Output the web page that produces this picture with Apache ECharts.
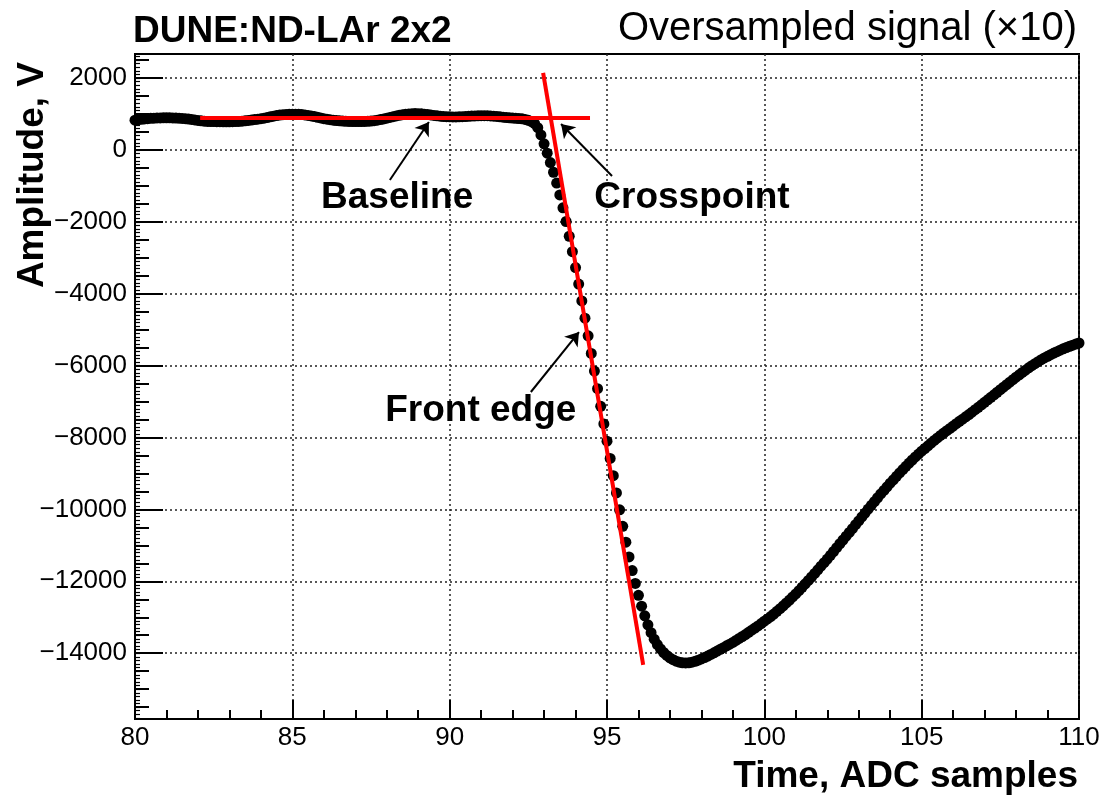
<!DOCTYPE html>
<html><head><meta charset="utf-8">
<script src="https://cdn.jsdelivr.net/npm/echarts@6/dist/echarts.min.js"></script>
<style>html,body{margin:0;padding:0;background:#fff}#c{width:1107px;height:801px}</style>
</head><body><div id="c"></div>
<script>
// Oversampled signal: one value every 0.1 ADC sample, from 80.0 to 110.0
const T_START = 80;
const T_STEP = 0.1;
// 80.0 .. 85.0
const ampBaselineA = [830,842,853,863,872,880,886,890,893,895,895,894,892,889,885,879,871,862,850,836,
  822,810,801,795,791,789,787,786,785,785,785,786,789,794,801,810,821,833,846,858,
  871,886,903,921,940,958,972,982,989,993,995];
// 85.1 .. 89.0
const ampBaselineB = [994,991,985,975,962,946,928,909,890,872,856,842,830,820,812,805,799,795,792,790,
  790,791,794,798,805,815,828,845,864,884,905,926,947,966,982,995,1004,1010,1012,1010];
// 89.1 .. 92.0
const ampBaselineC = [1005,997,987,975,962,950,940,931,925,921,919,919,921,925,930,936,942,948,952,955,
  955,953,948,941,932,922,912,902,894,887];
// 92.1 .. 97.0
const ampFrontEdge = [882,876,866,850,826,790,730,620,420,
  170,-90,-350,-620,-920,-1250,-1610,-1990,-2400,-2830,
  -3270,-3730,-4200,-4680,-5170,-5660,-6150,-6640,-7130,-7620,
  -8100,-8580,-9060,-9540,-10010,-10470,-10910,-11320,-11700,-12060,
  -12390,-12690,-12960,-13210,-13430,-13610,-13760,-13880,-13980,-14060,
  -14130];
// 97.1 .. 110.0
const ampTail = [-14180,-14220,-14250,-14265,-14270,-14265,-14250,-14225,-14195,-14160,
  -14120,-14080,-14035,-13990,-13940,-13890,-13845,-13795,-13750,-13700,
  -13645,-13590,-13535,-13480,-13420,-13360,-13300,-13240,-13175,-13110,
  -13045,-12980,-12910,-12835,-12760,-12680,-12600,-12520,-12435,-12350,
  -12260,-12165,-12070,-11975,-11880,-11780,-11680,-11580,-11480,-11380,
  -11275,-11170,-11065,-10955,-10850,-10745,-10640,-10535,-10425,-10320,
  -10210,-10100,-9990,-9885,-9780,-9675,-9570,-9470,-9370,-9270,
  -9175,-9080,-8985,-8890,-8800,-8710,-8625,-8540,-8460,-8380,
  -8305,-8230,-8155,-8080,-8010,-7940,-7875,-7810,-7745,-7680,
  -7615,-7550,-7490,-7425,-7360,-7295,-7225,-7160,-7090,-7020,
  -6950,-6880,-6810,-6740,-6670,-6600,-6530,-6460,-6390,-6320,
  -6255,-6190,-6125,-6060,-6000,-5945,-5890,-5835,-5785,-5740,
  -5695,-5650,-5610,-5570,-5530,-5495,-5460,-5430,-5400,-5370];

// Fitted lines (data coordinates)
const baselineFit = [[82.07, 900], [94.46, 900]];
const frontEdgeFit = [[92.97, 2147], [96.15, -14325]];

// Annotation arrows: [tail, head]
const arrowBaseline = [[88.10, -835], [89.34, 779]];
const arrowCross = [[95.16, -723], [93.54, 723]];
const arrowFront = [[92.58, -6733], [94.11, -5064]];
const annotationNames = ['Baseline', 'Crosspoint', 'Front edge'];
const annotationAt = [[88.33, -1336], [97.70, -1336], [90.99, -7262]];

// Axis ticks
const yMajorTicks = [-14000, -12000, -10000, -8000, -6000, -4000, -2000, 0, 2000];
const yMinorTicks = [];
for (let v = -15500; v <= 2500; v += 500) yMinorTicks.push(v);
const yTinyTicks = [];
for (let v = -15800; v <= 2600; v += 100) yTinyTicks.push(v);

const Y_MIN = -15830, Y_MAX = 2670;
const FONT = '"Liberation Sans", Arial, Helvetica, sans-serif';

const amplitude = [].concat(ampBaselineA, ampBaselineB, ampBaselineC, ampFrontEdge, ampTail);
const signal = amplitude.map((v, i) => [Math.round((T_START + i * T_STEP) * 10) / 10, v]);

const chart = echarts.init(document.getElementById('c'), null, {renderer: 'canvas'});
const dotted = {color: '#222', type: [2, 3], width: 1.5};
const tickStyle = {color: '#000', width: 2};

chart.setOption({
  animation: false,
  backgroundColor: '#fff',
  grid: {left: 135, right: 28, top: 54, bottom: 82, show: true, borderColor: '#000', borderWidth: 2, backgroundColor: 'transparent', containLabel: false},
  xAxis: {
    type: 'value', min: 80, max: 110, interval: 5,
    axisLine: {show: true, onZero: false, lineStyle: {color: '#000', width: 2}},
    axisTick: {show: true, inside: true, length: 19, lineStyle: tickStyle},
    minorTick: {show: true, splitNumber: 5, length: 9, lineStyle: tickStyle},
    axisLabel: {fontSize: 26, color: '#000', margin: 6, fontFamily: FONT, showMinLabel: true, showMaxLabel: true},
    splitLine: {show: true, lineStyle: dotted}
  },
  yAxis: [
    {
      type: 'value', min: Y_MIN, max: Y_MAX, position: 'left',
      axisLine: {show: true, onZero: false, lineStyle: {color: '#000', width: 2}},
      axisTick: {show: true, inside: true, length: 28, customValues: yMajorTicks, lineStyle: tickStyle},
      axisLabel: {customValues: yMajorTicks, fontSize: 26, color: '#000', margin: 8, fontFamily: FONT,
        formatter: v => String(v).replace('-', '\u2212')},
      splitLine: {show: true, lineStyle: dotted}
    },
    {
      type: 'value', min: Y_MIN, max: Y_MAX, position: 'left', offset: 0,
      axisLine: {show: false},
      axisTick: {show: true, inside: true, length: 14, customValues: yMinorTicks, lineStyle: tickStyle},
      axisLabel: {show: false}, splitLine: {show: false}
    },
    {
      type: 'value', min: Y_MIN, max: Y_MAX, position: 'left', offset: 0,
      axisLine: {show: false},
      axisTick: {show: true, inside: true, length: 5, customValues: yTinyTicks, lineStyle: {color: '#000', width: 1.2}},
      axisLabel: {show: false}, splitLine: {show: false}
    }
  ],
  series: [
    {
      type: 'scatter', data: signal, symbol: 'circle', symbolSize: 11,
      itemStyle: {color: '#000', opacity: 1}, silent: true, z: 2
    },
    {
      type: 'lines', coordinateSystem: 'cartesian2d', silent: true, z: 3,
      lineStyle: {color: '#ff0000', width: 4, opacity: 1},
      data: [{coords: baselineFit}, {coords: frontEdgeFit}]
    },
    {
      type: 'lines', coordinateSystem: 'cartesian2d', silent: true, z: 4,
      symbol: ['none', 'arrow'], symbolSize: 13,
      lineStyle: {color: '#000', width: 2, opacity: 1},
      data: [{coords: arrowBaseline}, {coords: arrowCross}, {coords: arrowFront}]
    },
    {
      type: 'scatter', silent: true, z: 5, symbolSize: 2, itemStyle: {color: 'rgba(0,0,0,0)', opacity: 1},
      data: annotationNames.map((n, i) => ({name: n, value: annotationAt[i]})),
      label: {show: true, position: 'inside', formatter: '{b}', color: '#000', fontSize: 37, fontWeight: 'bold', fontFamily: FONT}
    }
  ],
  graphic: [
    {type: 'text', x: 133, y: 32, style: {text: 'DUNE:ND-LAr 2x2', font: 'bold 37px ' + FONT, fill: '#000', align: 'left', verticalAlign: 'middle'}},
    {type: 'text', x: 1077, y: 29, style: {text: 'Oversampled signal (\u00d710)', font: '40px ' + FONT, fill: '#000', align: 'right', verticalAlign: 'middle'}},
    {type: 'text', x: 1078, y: 777, style: {text: 'Time, ADC samples', font: 'bold 37px ' + FONT, fill: '#000', align: 'right', verticalAlign: 'middle'}},
    {type: 'text', x: 33, y: 62, rotation: Math.PI / 2, style: {text: 'Amplitude, V', font: 'bold 37px ' + FONT, fill: '#000', align: 'right', verticalAlign: 'middle'}}
  ]
});
</script></body></html>
